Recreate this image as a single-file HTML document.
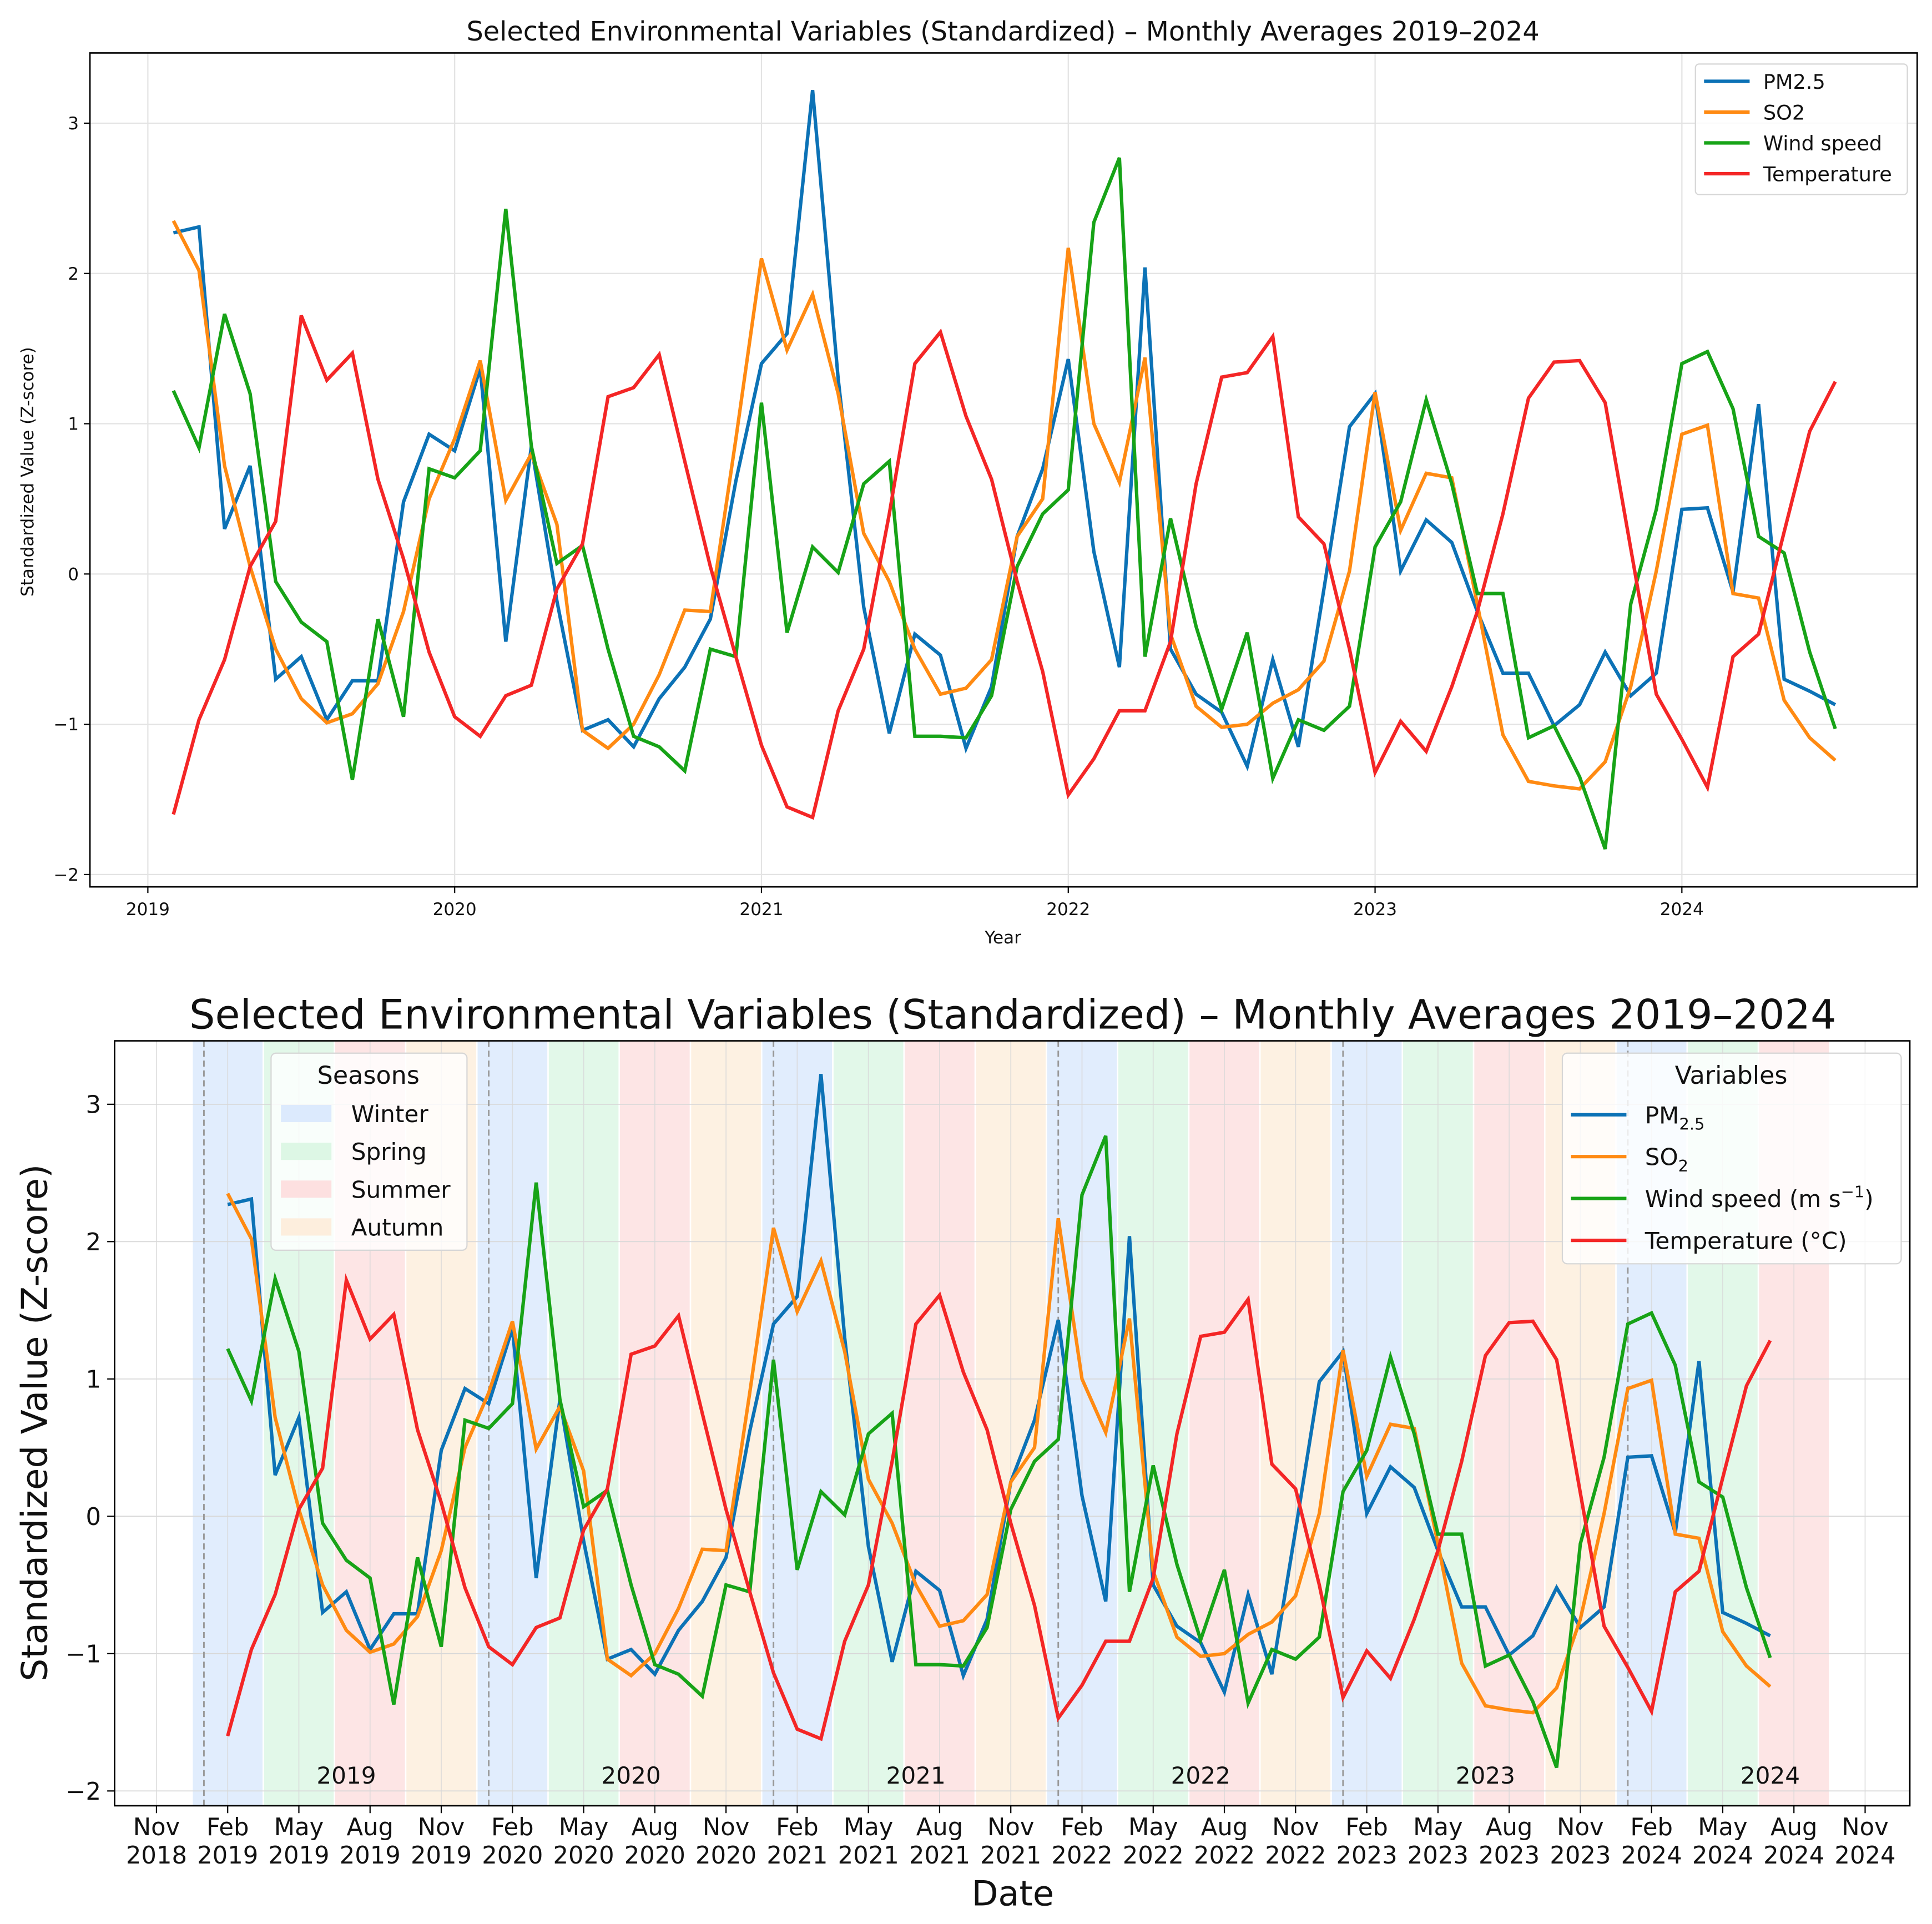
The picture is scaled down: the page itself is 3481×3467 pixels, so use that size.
<!DOCTYPE html>
<html><head><meta charset="utf-8"><style>
html,body{margin:0;padding:0;background:#fff}
svg{display:block}
text{font-family:"DejaVu Sans","Liberation Sans",sans-serif;fill:#111}
</style></head><body>
<svg id="fig" xmlns="http://www.w3.org/2000/svg" width="3481" height="3467" viewBox="0 0 1568 1562" preserveAspectRatio="none">
<g id="top"></g>
<g id="bot"></g>
</svg>
<script>
const pm25 = [2.27,2.31,0.30,0.72,-0.70,-0.55,-0.97,-0.71,-0.71,0.48,0.93,0.82,1.37,-0.45,0.85,-0.18,-1.04,-0.97,-1.15,-0.83,-0.62,-0.30,0.62,1.40,1.60,3.22,1.30,-0.22,-1.06,-0.40,-0.54,-1.16,-0.75,0.25,0.70,1.43,0.15,-0.62,2.04,-0.50,-0.80,-0.92,-1.28,-0.57,-1.15,-0.10,0.98,1.20,0.02,0.36,0.21,-0.25,-0.66,-0.66,-1.01,-0.87,-0.52,-0.81,-0.66,0.43,0.44,-0.12,1.13,-0.70,-0.78,-0.87];
const so2 = [2.35,2.02,0.72,0.05,-0.50,-0.83,-0.99,-0.93,-0.73,-0.25,0.50,0.90,1.42,0.49,0.80,0.33,-1.04,-1.16,-1.00,-0.67,-0.24,-0.25,0.90,2.10,1.49,1.86,1.20,0.27,-0.05,-0.50,-0.80,-0.76,-0.57,0.25,0.50,2.17,1.00,0.61,1.44,-0.40,-0.88,-1.02,-1.00,-0.86,-0.77,-0.58,0.02,1.21,0.29,0.67,0.64,-0.20,-1.07,-1.38,-1.41,-1.43,-1.25,-0.75,0.02,0.93,0.99,-0.13,-0.16,-0.84,-1.09,-1.24];
const wind = [1.22,0.84,1.73,1.20,-0.05,-0.32,-0.45,-1.37,-0.30,-0.95,0.70,0.64,0.82,2.43,0.85,0.07,0.19,-0.50,-1.08,-1.15,-1.31,-0.50,-0.55,1.14,-0.39,0.18,0.01,0.60,0.75,-1.08,-1.08,-1.09,-0.81,0.05,0.40,0.56,2.34,2.77,-0.55,0.37,-0.35,-0.90,-0.39,-1.36,-0.97,-1.04,-0.88,0.18,0.48,1.16,0.60,-0.13,-0.13,-1.09,-1.01,-1.35,-1.83,-0.20,0.43,1.40,1.48,1.10,0.25,0.14,-0.52,-1.03];
const temp = [-1.60,-0.97,-0.57,0.05,0.35,1.72,1.29,1.47,0.63,0.10,-0.52,-0.95,-1.08,-0.81,-0.74,-0.10,0.20,1.18,1.24,1.46,0.75,0.05,-0.55,-1.14,-1.55,-1.62,-0.91,-0.50,0.40,1.40,1.61,1.05,0.63,-0.05,-0.65,-1.47,-1.23,-0.91,-0.91,-0.45,0.60,1.31,1.34,1.58,0.38,0.20,-0.50,-1.32,-0.98,-1.18,-0.75,-0.25,0.40,1.17,1.41,1.42,1.14,0.17,-0.80,-1.10,-1.42,-0.55,-0.40,0.28,0.95,1.28];
const yTicks = [3,2,1,0,-1,-2];
const years = [2019,2020,2021,2022,2023,2024];
const monthNames = ["Nov","Feb","May","Aug"];
const seasonNames = ["Winter","Spring","Summer","Autumn"];
const seriesNamesTop = ["PM2.5","SO2","Wind speed","Temperature"];

const NS="http://www.w3.org/2000/svg";
const colors=["#0c72b6","#ff8a12","#17a317","#f42626"];
const seriesData=[pm25,so2,wind,temp];
function el(parent,tag,attrs,txt){const e=document.createElementNS(NS,tag);for(const k in attrs)e.setAttribute(k,attrs[k]);if(txt!==undefined)e.textContent=txt;parent.appendChild(e);return e;}

// ---------- TOP CHART ----------
const T=document.getElementById('top');
const tL=73,tR=1556,tT=43,tB=720;
const txYear=yr=>120+249*(yr-2019);
const txIdx=i=>txYear(2019+(i+1)/12);
const ty=v=>466-122*v;
let g;
for(const yr of years){g=el(T,'line',{x1:txYear(yr),x2:txYear(yr),y1:tT,y2:tB,stroke:'#e3e3e3','stroke-width':1});
}
for(const v of yTicks){g=el(T,'line',{x1:tL,x2:tR,y1:ty(v),y2:ty(v),stroke:'#e3e3e3','stroke-width':1});
}
seriesData.forEach((d,s)=>{const pts=d.map((v,i)=>txIdx(i).toFixed(2)+','+ty(v).toFixed(2)).join(' ');
const p=el(T,'polyline',{points:pts,fill:'none',stroke:colors[s],'stroke-width':2.8,'stroke-linejoin':'miter'});

});
g=el(T,'rect',{x:tL,y:tT,width:tR-tL,height:tB-tT,fill:'none',stroke:'#000','stroke-width':1.2});

for(const v of yTicks){el(T,'line',{x1:tL-5,x2:tL,y1:ty(v),y2:ty(v),stroke:'#000'});
g=el(T,'text',{x:tL-9,y:ty(v)+5,'text-anchor':'end','font-size':14},v<0?'\u2212'+(-v):String(v));
}
for(const yr of years){el(T,'line',{x1:txYear(yr),x2:txYear(yr),y1:tB,y2:tB+5,stroke:'#000'});
g=el(T,'text',{x:txYear(yr),y:tB+23,'text-anchor':'middle','font-size':14},String(yr));
}
g=el(T,'text',{x:814,y:33,'text-anchor':'middle','font-size':21.5},'Selected Environmental Variables (Standardized) \u2013 Monthly Averages 2019\u20132024');

g=el(T,'text',{x:814,y:766,'text-anchor':'middle','font-size':14},'Year');

g=el(T,'text',{x:0,y:0,'text-anchor':'middle','font-size':14,transform:'translate(27,383) rotate(-90)'},'Standardized Value (Z-score)');

const tLeg=el(T,'g',{});
el(tLeg,'rect',{x:1376,y:52,width:172,height:106,rx:3,fill:'#fff','fill-opacity':0.85,stroke:'#d6d6d6'});
seriesNamesTop.forEach((n,s)=>{const yy=66+25*s;
el(tLeg,'line',{x1:1383,x2:1420,y1:yy,y2:yy,stroke:colors[s],'stroke-width':2.8});
g=el(tLeg,'text',{x:1431,y:yy+6,'font-size':16.5},n);
});

// ---------- BOTTOM CHART ----------
const B=document.getElementById('bot');
const bL=93,bR=1550,bT=845,bB=1466;
const bxM=m=>127+19.26*m;
const bxIdx=i=>bxM(3+i);
const by=v=>1231-111.5*v;
const clip=el(B,'clipPath',{id:'bclip'});el(clip,'rect',{x:bL,y:bT,width:bR-bL,height:bB-bT});
const seasonCol=['#dceafd','#ddf7e5','#fde0e0','#fdeedd'];
for(let k=0;k<23;k++){const x1=bxM(1.5+3*k),x2=bxM(4.5+3*k);
g=el(B,'rect',{x:x1+0.6,y:bT,width:x2-x1-1.2,height:bB-bT,fill:seasonCol[k%4],'fill-opacity':0.85});
}
for(let m=0;m<=72;m+=3){g=el(B,'line',{x1:bxM(m),x2:bxM(m),y1:bT,y2:bB,stroke:'#d8d8d8','stroke-width':0.8,'stroke-opacity':0.8});
}
for(const v of yTicks){g=el(B,'line',{x1:bL,x2:bR,y1:by(v),y2:by(v),stroke:'#d8d8d8','stroke-width':0.8});
}
years.forEach((yr,k)=>{const xm=bxM(2+12*k);
g=el(B,'line',{x1:xm,x2:xm,y1:bT,y2:bB,stroke:'#999','stroke-width':1.3,'stroke-dasharray':'5,3'});

g=el(B,'text',{x:bxM(8+12*k),y:1448,'text-anchor':'middle','font-size':19,fill:'#999'},String(yr));
});
seriesData.forEach((d,s)=>{const pts=d.map((v,i)=>bxIdx(i).toFixed(2)+','+by(v).toFixed(2)).join(' ');
const p=el(B,'polyline',{points:pts,fill:'none',stroke:colors[s],'stroke-width':2.8,'clip-path':'url(#bclip)'});

});
g=el(B,'rect',{x:bL,y:bT,width:bR-bL,height:bB-bT,fill:'none',stroke:'#000','stroke-width':1.2});

for(const v of yTicks){el(B,'line',{x1:bL-6,x2:bL,y1:by(v),y2:by(v),stroke:'#000'});
g=el(B,'text',{x:bL-11,y:by(v)+7,'text-anchor':'end','font-size':19.5},v<0?'\u2212'+(-v):String(v));
}
for(let m=0,k=0;m<=72;m+=3,k++){const x=bxM(m);el(B,'line',{x1:x,x2:x,y1:bB,y2:bB+6,stroke:'#000'});
const yr=2018+Math.floor((m+10)/12);
g=el(B,'text',{x:x,y:1490,'text-anchor':'middle','font-size':19.5},monthNames[k%4]);

g=el(B,'text',{x:x,y:1513,'text-anchor':'middle','font-size':19.5},String(yr));
}
g=el(B,'text',{x:822,y:835,'text-anchor':'middle','font-size':33},'Selected Environmental Variables (Standardized) \u2013 Monthly Averages 2019\u20132024');

g=el(B,'text',{x:822,y:1547,'text-anchor':'middle','font-size':28},'Date');

g=el(B,'text',{x:0,y:0,'text-anchor':'middle','font-size':29,transform:'translate(38,1155) rotate(-90)'},'Standardized Value (Z-score)');

const sLeg=el(B,'g',{});
el(sLeg,'rect',{x:220,y:855,width:159,height:160,rx:4,fill:'#fff','fill-opacity':0.8,stroke:'#d6d6d6'});
el(sLeg,'text',{x:299,y:880,'text-anchor':'middle','font-size':20},'Seasons');
seasonNames.forEach((n,k)=>{const yy=904+30.7*k;
el(sLeg,'rect',{x:228,y:yy-7,width:41,height:14,fill:seasonCol[k]});
g=el(sLeg,'text',{x:285,y:yy+7,'font-size':19},n);
});
const vLeg=el(B,'g',{});
el(vLeg,'rect',{x:1268,y:855,width:275,height:171,rx:4,fill:'#fff','fill-opacity':0.8,stroke:'#d6d6d6'});
el(vLeg,'text',{x:1405,y:880,'text-anchor':'middle','font-size':20},'Variables');
const vLabels=[['PM','2.5',''],['SO','2',''],['Wind speed (m s','\u22121',')'],['Temperature (\u00b0C)','','']];
const vSub=[true,true,false,false];
vLabels.forEach((lb,s)=>{const yy=905+34*s;
el(vLeg,'line',{x1:1275,x2:1320,y1:yy,y2:yy,stroke:colors[s],'stroke-width':2.8});
const t=el(vLeg,'text',{x:1335,y:yy+7,'font-size':19});

el(t,'tspan',{},lb[0]);
if(lb[1]){el(t,'tspan',{'font-size':13,dy:vSub[s]?5:-8},lb[1]);el(t,'tspan',{dy:vSub[s]?-5:8},lb[2]);}
});
</script>
</body></html>
